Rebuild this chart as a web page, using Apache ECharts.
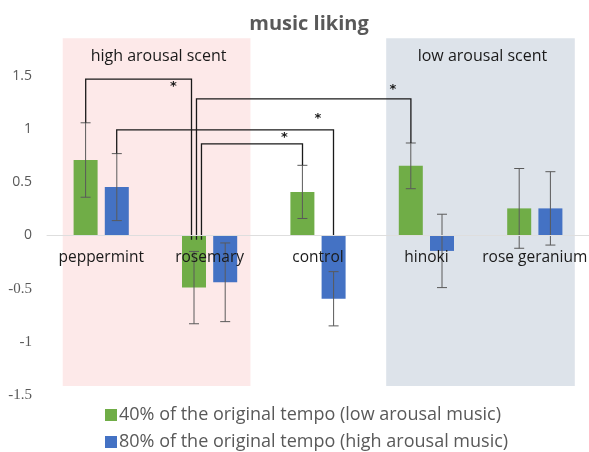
<!DOCTYPE html>
<html><head><meta charset="utf-8">
<script src="https://cdn.jsdelivr.net/npm/echarts@6/dist/echarts.min.js"></script>
<style>html,body{margin:0;padding:0;background:#fff}#c{width:589px;height:452px}</style>
</head><body><div id="c"></div>
<script>
// ---- data ----
var categories = ['peppermint', 'rosemary', 'control', 'hinoki', 'rose geranium'];
var seriesNames = ['40% of the original tempo (low arousal music)', '80% of the original tempo (high arousal music)'];
var lowTempo = [0.71, -0.49, 0.41, 0.655, 0.255];
var lowTempoErr = [0.35, 0.34, 0.25, 0.215, 0.375];
var highTempo = [0.455, -0.44, -0.595, -0.145, 0.255];
var highTempoErr = [0.315, 0.37, 0.255, 0.345, 0.345];
var yTicks = [-1.5, -1, -0.5, 0, 0.5, 1, 1.5];
// scent groups: [label, from (category units), to, yTop, yBottom]
var regions = [
  ['high arousal scent', 0.145, 1.877, 1.855, -1.415],
  ['low arousal scent', 3.129, 4.869, 1.855, -1.415]
];
// significance brackets: [xLeft, yLeftEnd, yTop, xRight, yRightEnd]
var brackets = [
  [0.357, 1.06, 1.47, 1.333, -0.04],
  [1.379, -0.04, 1.284, 3.357, 0.87],
  [0.643, 0.77, 0.993, 2.643, 0.0],
  [1.425, -0.04, 0.862, 2.357, 0.66]
];
var stars = [[1.167, 1.40], [3.19, 1.37], [2.50, 1.10], [2.19, 0.92]];

var GREEN = '#70ad47', BLUE = '#4472c4';
var chart = echarts.init(document.getElementById('c'));
var BW = 24, HALF = 15.6;

function errSeries(vals, errs, dir) {
  return {
    type: 'custom', xAxisIndex: 0, yAxisIndex: 0, z: 5, silent: true,
    data: vals.map(function (v, i) { return [i, v, errs[i]]; }),
    renderItem: function (params, api) {
      var i = api.value(0), v = api.value(1), e = api.value(2);
      var x = api.coord([i, 0])[0] + dir * HALF;
      var yt = api.coord([i, v + e])[1], yb = api.coord([i, v - e])[1];
      var st = { stroke: '#5a5a5a', lineWidth: 1 };
      return { type: 'group', children: [
        { type: 'line', shape: { x1: x, y1: yt, x2: x, y2: yb }, style: st },
        { type: 'line', shape: { x1: x - 5, y1: yt, x2: x + 5, y2: yt }, style: st },
        { type: 'line', shape: { x1: x - 5, y1: yb, x2: x + 5, y2: yb }, style: st }
      ]};
    }
  };
}

function legendItem(name, top) {
  return {
    left: 105, top: top, itemWidth: 12, itemHeight: 12, itemGap: 0, padding: 0,
    icon: 'rect', data: [name], selectedMode: false,
    textStyle: { fontFamily: 'Open Sans', fontSize: 18, color: '#595959', padding: [0, 0, 0, -3] }
  };
}

var option = {
  animation: false,
  backgroundColor: '#fff',
  title: {
    text: 'music liking', left: 304, top: 9, textAlign: 'center',
    textStyle: { fontFamily: 'Open Sans', fontWeight: 'bold', fontSize: 20, color: '#595959' }
  },
  legend: [legendItem(seriesNames[0], 406), legendItem(seriesNames[1], 433)],
  grid: { left: 47, right: 0, top: 76, bottom: 57 },
  xAxis: [
    {
      type: 'category', data: categories, z: 10,
      axisLine: { onZero: true, lineStyle: { color: '#dedede', width: 1 } },
      axisTick: { show: false },
      axisLabel: { show: false }
    },
    { type: 'value', min: 0, max: 5, show: false }
  ],
  yAxis: {
    type: 'value', min: yTicks[0], max: yTicks[yTicks.length - 1], interval: 0.5,
    axisLine: { show: false }, axisTick: { show: false }, splitLine: { show: false },
    axisLabel: {
      margin: 15, color: '#595959', fontFamily: 'Open Sans', fontSize: 14,
      formatter: function (v) { return v < 0 ? '{n|' + v + '}' : String(v); },
      rich: { n: { fontFamily: 'Liberation Serif', fontSize: 15, color: '#595959' } }
    }
  },
  series: [
    {
      type: 'custom', xAxisIndex: 1, yAxisIndex: 0, z: 0, silent: true,
      data: regions.map(function (r) { return [r[1], r[2], r[3], r[4]]; }),
      renderItem: function (params, api) {
        var p1 = api.coord([api.value(0), api.value(2)]);
        var p2 = api.coord([api.value(1), api.value(3)]);
        var idx = params.dataIndex;
        return { type: 'group', children: [
          { type: 'rect', shape: { x: p1[0], y: p1[1], width: p2[0] - p1[0], height: p2[1] - p1[1] },
            style: { fill: idx === 0 ? '#fde9e9' : '#dde3ea' } },
          { type: 'text', x: (p1[0] + p2[0]) / 2 + 2, y: p1[1] + 18,
            style: { text: regions[idx][0], fontFamily: 'Open Sans', fontSize: 16, fill: '#1a1a1a', align: 'center', verticalAlign: 'middle' } }
        ]};
      }
    },
    { name: seriesNames[0], type: 'bar', data: lowTempo, barWidth: BW, barGap: '30%', itemStyle: { color: GREEN }, z: 2 },
    { name: seriesNames[1], type: 'bar', data: highTempo, barWidth: BW, barGap: '30%', itemStyle: { color: BLUE }, z: 2 },
    errSeries(lowTempo, lowTempoErr, -1),
    errSeries(highTempo, highTempoErr, 1),
    {
      type: 'custom', xAxisIndex: 1, yAxisIndex: 0, z: 6, silent: true,
      data: brackets,
      renderItem: function (params, api) {
        var a = api.coord([api.value(0), api.value(1)]);
        var b = api.coord([api.value(0), api.value(2)]);
        var c = api.coord([api.value(3), api.value(2)]);
        var d = api.coord([api.value(3), api.value(4)]);
        return { type: 'polyline', shape: { points: [a, b, c, d] }, style: { stroke: '#1a1a1a', lineWidth: 1.3, fill: null } };
      }
    },
    {
      type: 'custom', xAxisIndex: 1, yAxisIndex: 0, z: 7, silent: true,
      data: stars,
      renderItem: function (params, api) {
        var p = api.coord([api.value(0), api.value(1)]);
        return { type: 'text', x: p[0], y: p[1], style: { text: '*', fontFamily: 'DejaVu Sans', fontWeight: 'bold', fontSize: 13, fill: '#1a1a1a', align: 'center', verticalAlign: 'middle' } };
      }
    },
    {
      type: 'custom', xAxisIndex: 0, yAxisIndex: 0, z: 8, silent: true,
      data: categories.map(function (c, i) { return [i, 0]; }),
      renderItem: function (params, api) {
        var p = api.coord([api.value(0), 0]);
        return { type: 'text', x: p[0], y: p[1] + 22, style: { text: categories[params.dataIndex], fontFamily: 'Open Sans', fontSize: 15.5, fill: '#1a1a1a', align: 'center', verticalAlign: 'middle' } };
      }
    }
  ]
};
chart.setOption(option);
</script></body></html>
